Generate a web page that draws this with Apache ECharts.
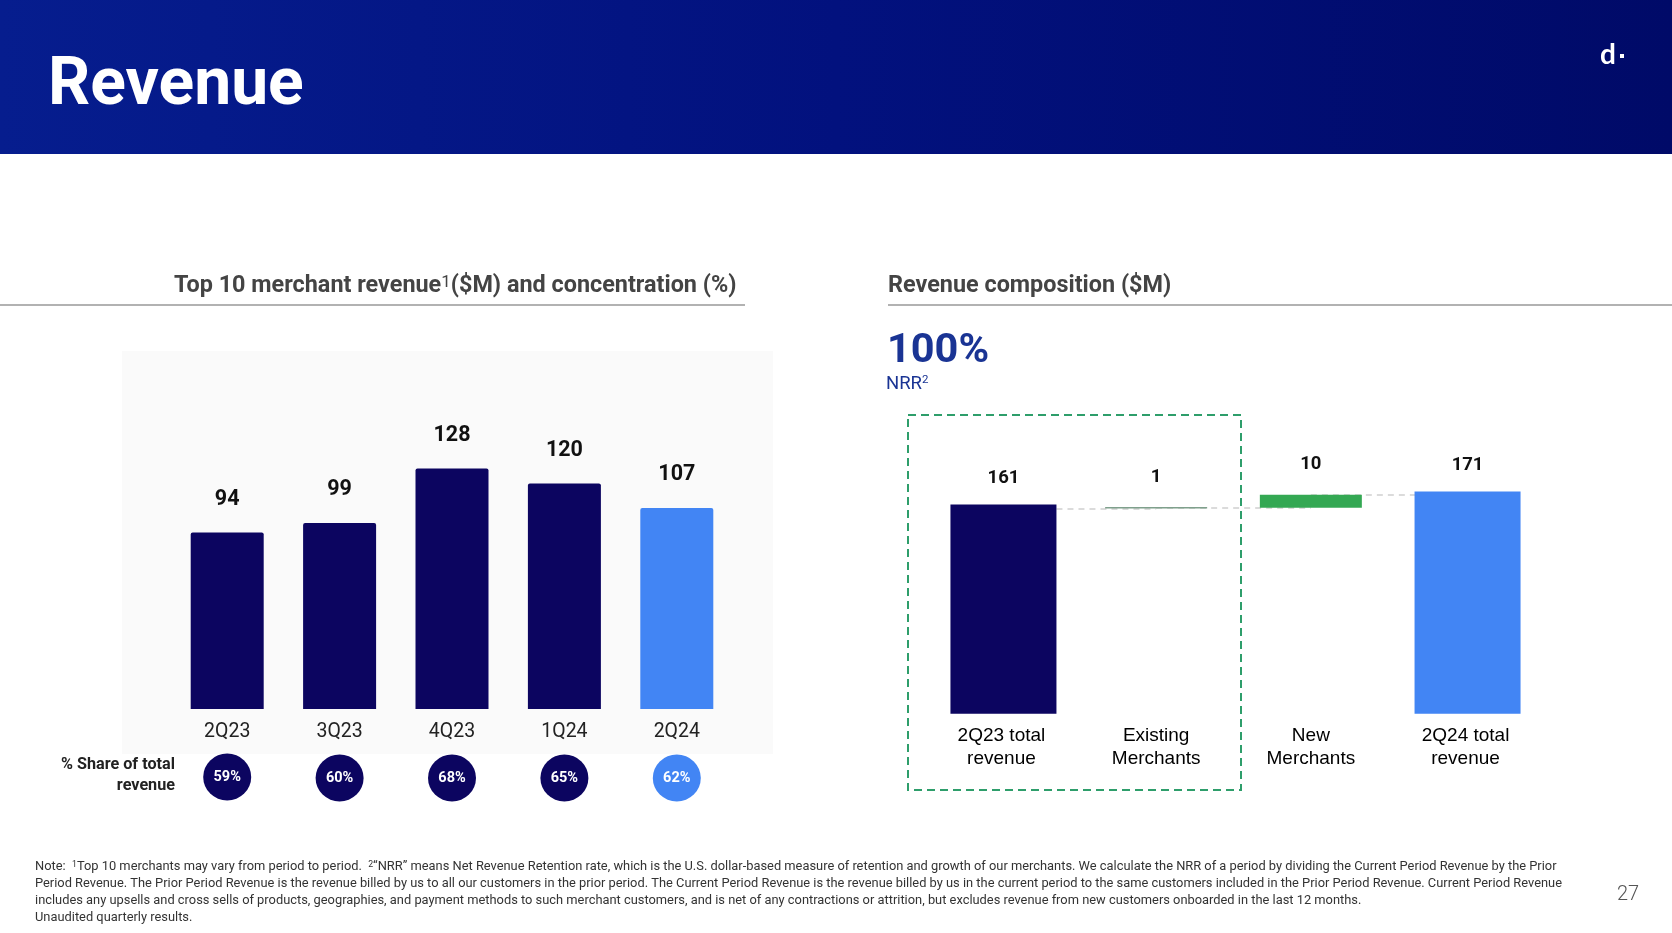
<!DOCTYPE html>
<html>
<head>
<meta charset="utf-8">
<title>Revenue</title>
<style>
  html, body { margin: 0; padding: 0; background: #fff; }
  #chart { width: 1672px; height: 933px; }
</style>
<script src="https://cdn.jsdelivr.net/npm/echarts@6/dist/echarts.min.js"></script>
</head>
<body>
<div id="chart"></div>
<script>
// left chart
const quarters = ['2Q23', '3Q23', '4Q23', '1Q24', '2Q24'];
const top10Revenue = [94, 99, 128, 120, 107];
const top10Share = [59, 60, 68, 65, 62];

// right chart (waterfall)
const wfCategories = ['2Q23 total\nrevenue', 'Existing\nMerchants', 'New\nMerchants', '2Q24 total\nrevenue'];
const wfTotals = [161, '-', '-', 171];
const wfBase = ['-', 158, 158.5, '-'];
const wfDelta = ['-', 1, 10, '-'];
const wfConnectors = [[0, 1, 158], [1, 2, 158.5], [2, 3, 168.5]];

const noteLines = [
  'Note:  {sup|1}Top 10 merchants may vary from period to period.  {sup|2}“NRR” means Net Revenue Retention rate, which is the U.S. dollar-based measure of retention and growth of our merchants. We calculate the NRR of a period by dividing the Current Period Revenue by the Prior',
  'Period Revenue. The Prior Period Revenue is the revenue billed by us to all our customers in the prior period. The Current Period Revenue is the revenue billed by us in the current period to the same customers included in the Prior Period Revenue. Current Period Revenue',
  'includes any upsells and cross sells of products, geographies, and payment methods to such merchant customers, and is net of any contractions or attrition, but excludes revenue from new customers onboarded in the last 12 months.',
  'Unaudited quarterly results.'
];

const NAVY = '#0c0560';
const BLUE = '#4285f4';
const GREEN = '#34a853';
const FONT = 'Roboto';

const txt = (x, y, text, size, color, weight, extra) => ({
  type: 'text', x, y, z: 10,
  style: Object.assign({
    text, fontFamily: FONT, fontSize: size, fill: color, fontWeight: weight || 400,
    textVerticalAlign: 'middle', verticalAlign: 'middle'
  }, extra || {})
});

const graphics = [
  { type: 'rect', x: 0, y: 0, z: -10, shape: { width: 1672, height: 154 },
    style: { fill: new echarts.graphic.LinearGradient(0, 0, 1, 0, [
      { offset: 0, color: '#061d8e' }, { offset: 0.5, color: '#02117e' }, { offset: 1, color: '#000a68' }
    ]) } },
  txt(48, 87.5, 'Revenue', 66, '#fff', 700),
  txt(1600, 55, 'd', 28, '#fff', 700, { fontFamily: 'Lato' }),
  { type: 'rect', x: 1620, y: 54, z: 10, shape: { width: 4, height: 4 }, style: { fill: '#fff' } },

  // section headers
  txt(174, 286, 'Top 10 merchant revenue{sup|1}($M) and concentration (%)', 23.4, '#444', 700, {
    rich: { sup: { fontSize: 17, fontFamily: FONT, fontWeight: 400, fill: '#444', verticalAlign: 'top', lineHeight: 22 } }
  }),
  { type: 'line', z: 10, shape: { x1: 0, y1: 305, x2: 745, y2: 305 }, style: { stroke: '#999', lineWidth: 1.5 } },
  txt(888, 286, 'Revenue composition ($M)', 23.4, '#444', 700),
  { type: 'line', z: 10, shape: { x1: 888, y1: 305, x2: 1672, y2: 305 }, style: { stroke: '#999', lineWidth: 1.5 } },

  txt(887, 351.5, '100%', 41.5, '#1a3494', 700),
  txt(886, 384, 'NRR{sup|2}', 18.5, '#1a3494', 400, {
    rich: { sup: { fontSize: 11.5, fontFamily: FONT, fill: '#1a3494', verticalAlign: 'top', lineHeight: 16 } }
  }),

  // backdrop behind the left bars
  { type: 'rect', x: 122, y: 351, z: -5, shape: { width: 651, height: 403 }, style: { fill: '#fafafa' } },
  // dashed box around NRR part
  { type: 'rect', x: 908, y: 415, z: -5, shape: { width: 333, height: 375 },
    style: { fill: 'none', stroke: '#2e9e6b', lineWidth: 2, lineDash: [8, 5] } },

  txt(175, 775, '% Share of total\nrevenue', 16.2, '#222', 700, { align: 'right', textAlign: 'right', lineHeight: 21 }),

  // footer
  txt(1617, 895, '27', 20, '#555', 300)
];

noteLines.forEach((line, i) => {
  graphics.push(txt(35, 867 + i * 17, line, 12.87, '#333', 400, {
    rich: { sup: { fontSize: 8.7, fontFamily: FONT, fill: '#333', verticalAlign: 'top', lineHeight: 14 } }
  }));
});

const option = {
  animation: false,
  backgroundColor: '#fff',
  textStyle: { fontFamily: FONT },
  graphic: { elements: graphics },
  grid: [
    { left: 171, top: 352, width: 562, height: 357 },
    { left: 171, top: 748, width: 562, height: 60 },
    { left: 924.1, top: 440.8, width: 618.8, height: 273 }
  ],
  xAxis: [
    { gridIndex: 0, type: 'category', data: quarters, axisLine: { show: false }, axisTick: { show: false },
      axisLabel: { fontSize: 19.5, color: '#222', margin: 13, fontFamily: FONT } },
    { gridIndex: 1, type: 'category', data: quarters, show: false },
    { gridIndex: 2, type: 'category', data: wfCategories, axisLine: { show: false }, axisTick: { show: false },
      axisLabel: { fontSize: 19, color: '#000', margin: 10, lineHeight: 23, fontFamily: 'Liberation Sans', interval: 0 } }
  ],
  yAxis: [
    { gridIndex: 0, type: 'value', min: 0, max: 190, show: false },
    { gridIndex: 1, type: 'value', min: -1, max: 1, show: false },
    { gridIndex: 2, type: 'value', min: 0, max: 210, show: false }
  ],
  series: [
    {
      name: 'Top 10 merchant revenue', type: 'bar', xAxisIndex: 0, yAxisIndex: 0, barWidth: 73,
      data: top10Revenue,
      itemStyle: { color: p => (p.dataIndex === 4 ? BLUE : NAVY), borderRadius: [2, 2, 0, 0] },
      label: { show: true, position: 'top', distance: 22, fontSize: 21.5, fontWeight: 700, color: '#111', fontFamily: FONT }
    },
    {
      name: '% Share of total revenue', type: 'scatter', xAxisIndex: 1, yAxisIndex: 1,
      symbol: 'circle', symbolSize: [48, 47],
      data: top10Share.map((v, i) => ({
        value: [i, 0], share: v, symbolOffset: i === 0 ? [0, -1] : [0, 0],
        itemStyle: { color: i === 4 ? BLUE : NAVY, opacity: 1 }
      })),
      label: { show: true, position: 'inside', fontSize: 14.5, fontWeight: 700, color: '#fff', fontFamily: FONT,
        formatter: p => p.data.share + '%' }
    },
    {
      name: 'Connectors', type: 'line', xAxisIndex: 2, yAxisIndex: 2, z: 1, data: [], silent: true,
      markLine: {
        silent: true, symbol: 'none', z: 1, label: { show: false },
        lineStyle: { color: '#d0d0d0', type: [6, 5], width: 1.5 },
        data: wfConnectors.map(c => [{ xAxis: c[0], yAxis: c[2] }, { xAxis: c[1], yAxis: c[2] }])
      }
    },
    {
      name: 'Total', type: 'bar', xAxisIndex: 2, yAxisIndex: 2, z: 3, barWidth: 106, barGap: '-100%',
      data: wfTotals,
      itemStyle: { color: p => (p.dataIndex === 0 ? NAVY : BLUE) },
      label: { show: true, position: 'top', distance: 16.5, fontSize: 18.5, fontWeight: 700, color: '#111', fontFamily: FONT }
    },
    {
      name: 'Base', type: 'bar', stack: 'wf', xAxisIndex: 2, yAxisIndex: 2, z: 3, barWidth: 102,
      data: wfBase, itemStyle: { color: 'transparent' }, silent: true
    },
    {
      name: 'Change', type: 'bar', stack: 'wf', xAxisIndex: 2, yAxisIndex: 2, z: 3, barWidth: 102,
      data: wfDelta,
      itemStyle: { color: p => (p.dataIndex === 1 ? '#7fa08c' : GREEN) },
      label: { show: true, position: 'top', distance: 20.5, fontSize: 18.5, fontWeight: 700, color: '#111', fontFamily: FONT }
    }
  ]
};

const chart = echarts.init(document.getElementById('chart'), null, { renderer: 'canvas' });
chart.setOption(option);
</script>
</body>
</html>
